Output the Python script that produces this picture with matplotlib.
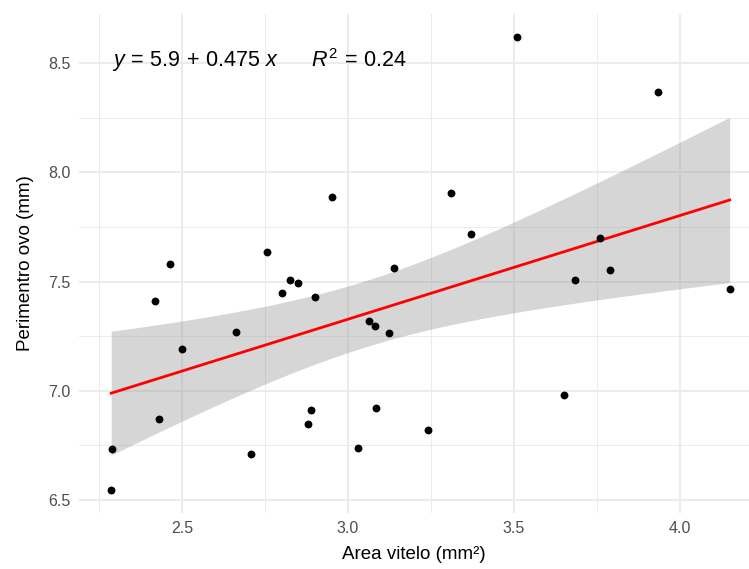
import numpy as np
import matplotlib
matplotlib.use("Agg")
import matplotlib.pyplot as plt

# values
area_vitelo = [2.290, 2.287, 2.420, 2.430, 2.464, 2.500, 2.662, 2.707,
               2.755, 2.800, 2.827, 2.851, 2.900, 2.880, 2.890, 2.953,
               3.030, 3.065, 3.083, 3.085, 3.125, 3.140, 3.240, 3.310,
               3.370, 3.510, 3.650, 3.683, 3.790, 3.760, 3.935, 4.150]
perimetro_ovo = [6.733, 6.546, 7.410, 6.870, 7.580, 7.190, 7.270, 6.710,
                 7.635, 7.447, 7.507, 7.493, 7.430, 6.850, 6.910, 7.887,
                 6.740, 7.320, 7.296, 6.920, 7.264, 7.560, 6.820, 7.905,
                 7.717, 8.620, 6.980, 7.507, 7.553, 7.700, 8.367, 7.466]
eq_label = r"$y\,=\,5.9\,+\,0.475\ x\qquad R^2\,=\,0.24$"
x_ticks = [2.5, 3.0, 3.5, 4.0]
y_ticks = [6.5, 7.0, 7.5, 8.0, 8.5]

plt.rcParams["font.family"] = ["Liberation Sans", "DejaVu Sans"]
plt.rcParams["mathtext.fontset"] = "custom"
plt.rcParams["mathtext.rm"] = "Liberation Sans"
plt.rcParams["mathtext.it"] = "Liberation Sans:italic"

x = np.array(area_vitelo)
y = np.array(perimetro_ovo)

# linear fit + 95% confidence band (like geom_smooth(method="lm"))
n = len(x)
b1, b0 = np.polyfit(x, y, 1)
resid = y - (b0 + b1 * x)
s = np.sqrt(np.sum(resid ** 2) / (n - 2))
t_crit = 2.0423  # t(0.975, df=30)
xs = np.linspace(x.min(), x.max(), 80)
ys = b0 + b1 * xs
se = s * np.sqrt(1.0 / n + (xs - x.mean()) ** 2 / np.sum((x - x.mean()) ** 2))

fig = plt.figure(figsize=(7.49, 5.69), dpi=100)
W, H = 749, 569
left, right, top, bottom = 79, 749, 14, 513
ax = fig.add_axes([left / W, 1 - bottom / H, (right - left) / W, (bottom - top) / H])

ax.fill_between(xs, ys - t_crit * se, ys + t_crit * se, color="#999999",
                alpha=0.4, lw=0, zorder=2)
ax.plot(xs, ys, color="red", lw=2, zorder=3)
ax.scatter(x, y, s=32, color="black", lw=0, zorder=4)

ax.set_xlim(2.19, 2.5 + (749 - 181) / 332.5)
ax.set_ylim(8.5 - (513 - 63) / 218.5, 8.5 + (63 - 14) / 218.5)
ax.set_xticks(x_ticks)
ax.set_yticks(y_ticks)
ax.set_xticks([2.25, 2.75, 3.25, 3.75], minor=True)
ax.set_yticks([6.75, 7.25, 7.75, 8.25], minor=True)
ax.grid(True, which="major", color="#EBEBEB", lw=1.3)
ax.grid(True, which="minor", color="#EBEBEB", lw=0.7)
ax.set_axisbelow(True)
for sp in ax.spines.values():
    sp.set_visible(False)
ax.tick_params(which="both", length=0, labelsize=11.5, labelcolor="#4D4D4D", pad=6)

ax.set_xlabel("Area vitelo (mm²)", fontsize=13.5, labelpad=7)
ax.set_ylabel("Perimentro ovo (mm)", fontsize=13.5, labelpad=10)

ax.text(112 / W, 1 - 60 / H, eq_label, transform=fig.transFigure,
        fontsize=15.5, va="center", ha="left")

fig.savefig("out.png", dpi=100)
